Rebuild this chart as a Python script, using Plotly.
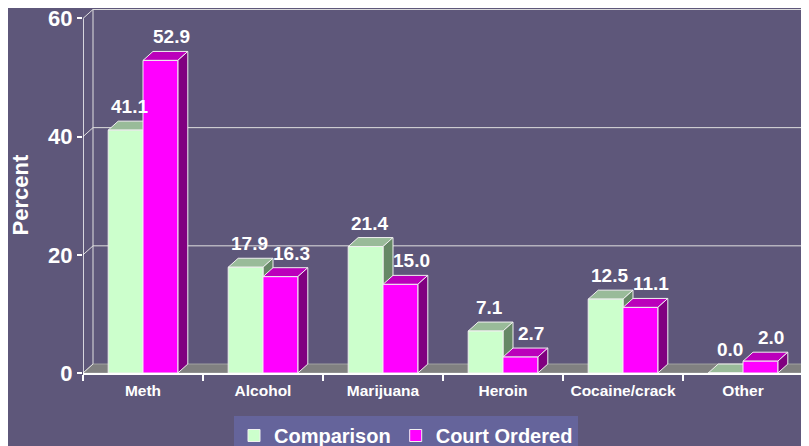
import plotly.graph_objects as go

categories = ["Meth", "Alcohol", "Marijuana", "Heroin", "Cocaine/crack", "Other"]
comparison = [41.1, 17.9, 21.4, 7.1, 12.5, 0.0]
court_ordered = [52.9, 16.3, 15.0, 2.7, 11.1, 2.0]
series_names = ["Comparison", "Court Ordered"]
y_ticks = [0, 20, 40, 60]

BG = "#5E577A"
LEG_BG = "#65649B"
FRONT = ["#CCFFCC", "#FF00FF"]
TOP = ["#99BB99", "#BB00BB"]
SIDE = ["#668866", "#800080"]
EDGE = "#F0F0F0"
GRID = "#E0E0E0"
FONT = "Arial, Liberation Sans"

# page body has an 8px default margin, so the figure is sized/offset to fit the window
PAGE_OFF = 8
FIG_W, FIG_H = 809 - PAGE_OFF, 446 - PAGE_OFF
ML, MT, MB = 83 - PAGE_OFF, 9 - PAGE_OFF, 73
PW, PH = FIG_W - ML, FIG_H - MT - MB

W = 0.29          # bar width (category units)
DX = 10 / 120     # depth in x (category units)
DY = 1.52         # depth in y (data units)
XMIN, XMAX = -0.5, 5.55
YMAX = 61.6

fig = go.Figure()
shapes = []

# floor
shapes.append(dict(type="path", xref="x", yref="y", layer="below",
                   path=f"M{XMIN},0 L{XMAX},0 L{XMAX},{DY} L{XMIN+DX},{DY} Z",
                   fillcolor="#808080", line=dict(color="#A0A0A0", width=1)))
# back wall left edge
shapes.append(dict(type="line", xref="x", yref="y", layer="below",
                   x0=XMIN + DX, x1=XMIN + DX, y0=DY, y1=y_ticks[-1] + DY,
                   line=dict(color=GRID, width=1)))
# gridlines (back wall + left wall diagonals)
for t in y_ticks:
    if t > 0:
        shapes.append(dict(type="line", xref="x", yref="y", layer="below",
                           x0=XMIN + DX, x1=XMAX + 0.1, y0=t + DY, y1=t + DY,
                           line=dict(color=GRID, width=1)))
    shapes.append(dict(type="line", xref="x", yref="y", layer="below",
                       x0=XMIN, x1=XMIN + DX, y0=t, y1=t + DY,
                       line=dict(color=GRID, width=1)))
# front y axis line
shapes.append(dict(type="line", xref="x", yref="y", layer="above",
                   x0=XMIN, x1=XMIN, y0=0, y1=y_ticks[-1],
                   line=dict(color="white", width=1.5)))

annotations = []
for s, (name, vals) in enumerate(zip(series_names, [comparison, court_ordered])):
    off = -W if s == 0 else 0.0
    fig.add_trace(go.Bar(
        x=categories, y=vals, name=name, width=W, offset=off,
        marker=dict(color=FRONT[s], line=dict(color=EDGE, width=1)),
        hoverinfo="x+y"))
    for i, v in enumerate(vals):
        x0 = i + off
        x1 = x0 + W
        # top face
        shapes.append(dict(type="path", xref="x", yref="y", layer="below",
                           path=f"M{x0},{v} L{x1},{v} L{x1+DX},{v+DY} L{x0+DX},{v+DY} Z",
                           fillcolor=TOP[s], line=dict(color=EDGE, width=1)))
        # side face
        if v > 0:
            shapes.append(dict(type="path", xref="x", yref="y", layer="below",
                               path=f"M{x1},0 L{x1},{v} L{x1+DX},{v+DY} L{x1+DX},{DY} Z",
                               fillcolor=SIDE[s], line=dict(color=EDGE, width=1)))
        annotations.append(dict(
            x=x0 + W / 2, y=v + DY, xref="x", yref="y",
            text=f"{v:.1f}", showarrow=False,
            xanchor="center", yanchor="bottom",
            xshift=4 if s == 0 else 11, yshift=2,
            font=dict(family=FONT, size=19, color="white", weight="bold")))

annotations.append(dict(
    x=((19.5 - PAGE_OFF) - ML) / PW, y=(FIG_H - MB - (195 - PAGE_OFF)) / PH,
    xref="paper", yref="paper",
    text="Percent", showarrow=False, textangle=-90,
    xanchor="center", yanchor="middle",
    font=dict(family=FONT, size=22, color="white", weight="bold")))

fig.update_layout(
    width=FIG_W, height=FIG_H,
    margin=dict(l=ML, r=0, t=MT, b=MB, autoexpand=False),
    paper_bgcolor=BG, plot_bgcolor=BG,
    barmode="overlay",
    shapes=shapes, annotations=annotations,
    showlegend=True,
    legend=dict(orientation="h", xref="container", yref="container",
                x=(406 - PAGE_OFF) / FIG_W, xanchor="center",
                y=(446 - 416) / FIG_H, yanchor="top",
                bgcolor=LEG_BG, borderwidth=0,
                font=dict(family=FONT, size=20, color="white", weight="bold"),
                itemwidth=30, tracegroupgap=0),
    xaxis=dict(type="category", range=[XMIN, XMAX], showgrid=False,
               showline=True, linecolor="white", linewidth=2,
               ticks="outside", tickson="boundaries", ticklen=6, tickcolor="white", tickwidth=2,
               ticklabelstandoff=2,
               tickfont=dict(family=FONT, size=15.5, color="white", weight="bold"),
               fixedrange=True),
    yaxis=dict(range=[0, YMAX], tickvals=y_ticks, showgrid=False, zeroline=False,
               showline=False, ticks="outside", ticklen=5, tickcolor="white", tickwidth=1.5,
               ticklabeloverflow="allow",
               tickfont=dict(family=FONT, size=22, color="white", weight="bold"),
               fixedrange=True),
)

fig.write_html("out.html")
